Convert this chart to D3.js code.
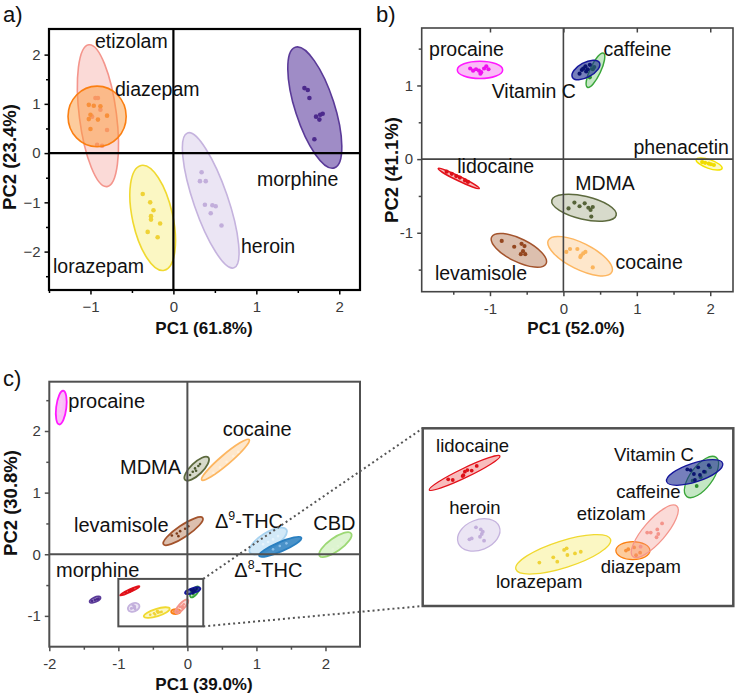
<!DOCTYPE html>
<html>
<head>
<meta charset="utf-8">
<script src="https://cdn.jsdelivr.net/npm/d3@7"></script>
<style>
  body { margin: 0; background: #fff; }
  svg text { font-family: "Liberation Sans", Arial, sans-serif; }
</style>
</head>
<body>
<svg id="fig" width="736" height="693"></svg>
<script>
// ---- panel a: benzodiazepines / opiates ----
var namesA = ["etizolam", "diazepam", "lorazepam", "heroin", "morphine"];
// confidence ellipse: [x1, y1, x2, y2, minor/major ratio] (major axis end points)
var ellA = [
  [-1.02, 2.20, -0.80, -0.68, 0.26],
  [-0.92, 1.36, -0.92, 0.13, 0.96],
  [-0.39, -0.25, -0.11, -2.38, 0.375],
  [0.17, 0.41, 0.73, -2.33, 0.24],
  [1.47, 2.15, 1.94, -0.30, 0.31]
];
var ptsA = [
  [[-0.94, 1.12], [-0.91, 1.12], [-0.88, 0.88], [-0.98, 0.74], [-0.80, 0.47], [-0.92, 0.17], [-0.86, 0.15]],
  [[-1.02, 0.98], [-0.96, 0.96], [-1.00, 0.78], [-1.02, 0.69], [-0.88, 0.95], [-0.91, 0.68], [-0.80, 0.76], [-1.00, 0.49]],
  [[-0.37, -0.83], [-0.28, -1.00], [-0.27, -1.28], [-0.27, -1.35], [-0.24, -1.16], [-0.16, -1.43], [-0.31, -1.60], [-0.19, -1.71]],
  [[0.34, -0.39], [0.32, -0.57], [0.39, -0.57], [0.38, -1.05], [0.47, -1.06], [0.51, -1.08], [0.45, -1.22], [0.58, -1.47]],
  [[1.58, 1.32], [1.62, 1.28], [1.64, 1.12], [1.72, 0.74], [1.77, 0.78], [1.80, 0.80], [1.76, 0.68], [1.70, 0.28]]
];
var labA = [["etizolam", -0.945, 2.134], ["diazepam", -0.704, 1.159], ["morphine", 1.008, -0.668],
            ["heroin", 0.815, -2.028], ["lorazepam", -1.452, -2.435]];

// ---- panel b: cutting agents ----
var namesB = ["procaine", "caffeine", "vitc", "phenacetin", "lidocaine", "MDMA", "levamisole", "cocaine"];
var ellB = [
  [-1.445, 1.211, -0.827, 1.211, 0.38],
  [0.546, 1.438, 0.327, 0.975, 0.28],
  [0.123, 1.111, 0.491, 1.310, 0.48],
  [1.810, -0.005, 2.161, -0.127, 0.32],
  [-1.705, -0.127, -1.146, -0.399, 0.1],
  [-0.158, -0.558, 0.719, -0.762, 0.35],
  [-0.977, -1.057, -0.236, -1.420, 0.38],
  [-0.205, -1.102, 0.660, -1.533, 0.37]
];
var ptsB = [
  [[-1.27, 1.23], [-1.23, 1.20], [-1.19, 1.22], [-1.15, 1.20], [-1.12, 1.18], [-1.08, 1.23], [-1.05, 1.26], [-1.02, 1.22], [-1.13, 1.16]],
  [[0.40, 1.22], [0.42, 1.25], [0.36, 1.11]],
  [[0.22, 1.16], [0.25, 1.21], [0.27, 1.23], [0.30, 1.26], [0.33, 1.22], [0.36, 1.28], [0.31, 1.19]],
  [[1.89, -0.04], [1.93, -0.05], [1.98, -0.06], [2.01, -0.07], [2.05, -0.08]],
  [[-1.59, -0.17], [-1.52, -0.20], [-1.46, -0.23], [-1.41, -0.25], [-1.34, -0.29], [-1.30, -0.31]],
  [[0.07, -0.67], [0.15, -0.59], [0.22, -0.64], [0.29, -0.60], [0.34, -0.66], [0.37, -0.69], [0.40, -0.65], [0.38, -0.78]],
  [[-0.84, -1.11], [-0.67, -1.19], [-0.57, -1.15], [-0.53, -1.18], [-0.55, -1.25], [-0.58, -1.29], [-0.52, -1.29]],
  [[0.04, -1.26], [0.09, -1.22], [0.19, -1.22], [0.24, -1.31], [0.27, -1.28], [0.30, -1.26], [0.40, -1.47], [0.23, -1.33]]
];
var labB = [["procaine", -1.830, 1.401], ["caffeine", 0.546, 1.401], ["Vitamin C", -0.977, 0.826],
            ["phenacetin", 0.955, 0.068], ["lidocaine", -1.446, -0.186], ["MDMA", 0.160, -0.422],
            ["levamisole", -1.750, -1.646], ["cocaine", 0.711, -1.487]];

// ---- panel c: all compounds ----
var namesC = ["procaine", "MDMA", "cocaine", "levamisole", "d9thc", "d8thc", "CBD", "morphine",
              "lidocaine", "heroin", "lorazepam", "diazepam", "etizolam", "caffeine", "vitc"];
var ellC = [
  [-1.798, 2.653, -1.856, 2.106, 0.3],
  [-0.033, 1.206, 0.303, 1.571, 0.37],
  [0.208, 1.206, 0.895, 1.860, 0.16],
  [-0.346, 0.161, 0.222, 0.590, 0.25],
  [0.905, 0.027, 1.434, 0.402, 0.38],
  [1.039, -0.027, 1.651, 0.268, 0.2],
  [1.915, -0.027, 2.372, 0.338, 0.34],
  [-1.414, -0.777, -1.260, -0.696, 0.4],
  [-0.974, -0.667, -0.694, -0.520, 0.12],
  [-0.859, -0.898, -0.697, -0.826, 0.68],
  [-0.631, -1.011, -0.256, -0.881, 0.27],
  [-0.235, -0.930, -0.100, -0.930, 0.53],
  [-0.168, -0.956, 0.006, -0.737, 0.33],
  [0.046, -0.696, 0.162, -0.526, 0.45],
  [-0.034, -0.631, 0.188, -0.552, 0.32]
];
var ptsC = [
  [[-1.837, 2.52], [-1.827, 2.44], [-1.822, 2.48], [-1.837, 2.36], [-1.847, 2.28], [-1.827, 2.40]],
  [[0.039, 1.286], [0.078, 1.34], [0.111, 1.393], [0.159, 1.431], [0.183, 1.463], [0.126, 1.356]],
  [[0.375, 1.323], [0.472, 1.409], [0.568, 1.50], [0.664, 1.592], [0.736, 1.661]],
  [[-0.225, 0.305], [-0.153, 0.338], [-0.105, 0.375], [-0.033, 0.413], [0.014, 0.455], [-0.130, 0.294]],
  [[1.097, 0.161], [1.169, 0.198], [1.241, 0.241], [1.313, 0.295]],
  [[1.241, 0.080], [1.338, 0.134], [1.434, 0.177]],
  [[2.107, 0.080], [2.179, 0.134], [2.228, 0.177]],
  [[-1.38, -0.76], [-1.34, -0.74], [-1.31, -0.73], [-1.29, -0.72]],
  [[-0.899, -0.621], [-0.881, -0.624], [-0.842, -0.607], [-0.833, -0.588], [-0.823, -0.581], [-0.806, -0.583], [-0.786, -0.563], [-0.839, -0.603]],
  [[-0.815, -0.881], [-0.806, -0.877], [-0.789, -0.829], [-0.770, -0.838], [-0.766, -0.858], [-0.762, -0.848], [-0.757, -0.887], [-0.773, -0.870]],
  [[-0.538, -0.982], [-0.483, -0.959], [-0.467, -0.978], [-0.440, -0.927], [-0.430, -0.920], [-0.427, -0.949], [-0.397, -0.942], [-0.374, -0.935]],
  [[-0.195, -0.930], [-0.186, -0.924], [-0.163, -0.916], [-0.139, -0.939], [-0.155, -0.950]],
  [[-0.111, -0.852], [-0.097, -0.852], [-0.071, -0.838], [-0.067, -0.858], [-0.052, -0.812], [-0.074, -0.872], [-0.137, -0.913]],
  [[0.085, -0.650], [0.101, -0.612], [0.119, -0.589], [0.138, -0.569], [0.069, -0.627]],
  [[0.048, -0.578], [0.061, -0.581], [0.074, -0.598], [0.078, -0.624], [0.098, -0.602], [0.114, -0.588], [0.133, -0.560], [0.091, -0.569]]
];
var labC = [["procaine", -1.725, 2.368], ["cocaine", 0.512, 1.919], ["MDMA", -0.976, 1.297],
            ["levamisole", -1.642, 0.366], ["Δ|9|-THC", 0.400, 0.421], ["CBD", 1.824, 0.394],
            ["Δ|8|-THC", 0.680, -0.374], ["morphine", -1.903, -0.374]];
// groups shown again in the zoomed inset, and their labels
var insetNames = ["lidocaine", "heroin", "lorazepam", "diazepam", "etizolam", "caffeine", "vitc"];
var labInset = [["lidocaine", -0.947, -0.501], ["Vitamin C", -0.242, -0.540], ["caffeine", -0.234, -0.703],
                ["heroin", -0.895, -0.771], ["etizolam", -0.390, -0.797], ["diazepam", -0.295, -1.028],
                ["lorazepam", -0.710, -1.093]];
var zoomX = [-1.0, 0.23], zoomY = [-1.17, -0.4];

// colours per compound
var sty = {
  etizolam:   {stroke: "#f4958c", fill: "#f4958c", fo: 0.35, dot: "#f4948b"},
  diazepam:   {stroke: "#fb7f12", fill: "#fb9a3c", fo: 0.5,  dot: "#f8903a"},
  lorazepam:  {stroke: "#f0d930", fill: "#f7ee7a", fo: 0.45, dot: "#efd236"},
  heroin:     {stroke: "#c5b3de", fill: "#d8cbe9", fo: 0.5,  dot: "#c2aedb"},
  morphine:   {stroke: "#5a3a98", fill: "#6c4fa8", fo: 0.65, dot: "#4c2a8c"},
  procaine:   {stroke: "#ff1aff", fill: "#f57cf0", fo: 0.5,  dot: "#ee10ee"},
  caffeine:   {stroke: "#3aa63a", fill: "#7cc97c", fo: 0.45, dot: "#2f8f2f"},
  vitc:       {stroke: "#15169a", fill: "#1a2a90", fo: 0.6,  dot: "#0a1370"},
  phenacetin: {stroke: "#f4e300", fill: "#faf17a", fo: 0.45, dot: "#f0dc00"},
  lidocaine:  {stroke: "#e3121b", fill: "#f06a6a", fo: 0.45, dot: "#dd1018"},
  MDMA:       {stroke: "#5d6a3e", fill: "#a7ae8c", fo: 0.45, dot: "#566338"},
  levamisole: {stroke: "#a3532c", fill: "#c08a6c", fo: 0.55, dot: "#94461f"},
  cocaine:    {stroke: "#fdb660", fill: "#fdd3a0", fo: 0.55, dot: "#fbb55d"},
  d9thc:      {stroke: "#a9d3f0", fill: "#bfe0f5", fo: 0.7,  dot: "#e6f3fc"},
  d8thc:      {stroke: "#2a7fc0", fill: "#2a7fc0", fo: 0.85, dot: "#8cc0ea"},
  CBD:        {stroke: "#9cd874", fill: "#c7ecb0", fo: 0.6,  dot: "#e3f5d6"}
};
// in panel c some markers are pale
var dotC = {cocaine: "#fff0dc", procaine: "#f8c8f6", MDMA: "#4d5a30", levamisole: "#7c3a18"};

var svg = d3.select("#fig");
var FONT = "'Liberation Sans', Arial, sans-serif";

function drawEllipse(sel, x, y, e, st, sw) {
  var p1 = [x(e[0]), y(e[1])], p2 = [x(e[2]), y(e[3])];
  var a = Math.hypot(p2[0] - p1[0], p2[1] - p1[1]) / 2;
  var ang = Math.atan2(p2[1] - p1[1], p2[0] - p1[0]) * 180 / Math.PI;
  sel.append("ellipse")
    .attr("transform", "translate(" + (p1[0] + p2[0]) / 2 + "," + (p1[1] + p2[1]) / 2 + ") rotate(" + ang + ")")
    .attr("rx", a).attr("ry", a * e[4])
    .attr("fill", st.fill).attr("fill-opacity", st.fo)
    .attr("stroke", st.stroke).attr("stroke-width", sw);
}

function drawGroups(g, x, y, names, ells, pts, o) {
  names.forEach(function (n, i) {
    if (o.only && o.only.indexOf(n) < 0) return;
    var st = sty[n];
    drawEllipse(g, x, y, ells[i], st, o.sw);
    g.selectAll(null).data(pts[i]).enter().append("circle")
      .attr("cx", function (d) { return x(d[0]); })
      .attr("cy", function (d) { return y(d[1]); })
      .attr("r", o.r)
      .attr("fill", (o.dots && o.dots[n]) || st.dot);
  });
}

function drawLabels(g, x, y, labs, size) {
  labs.forEach(function (l) {
    var t = g.append("text").attr("x", x(l[1])).attr("y", y(l[2]))
      .attr("font-size", size).attr("fill", "#111");
    var parts = l[0].split("|");
    if (parts.length === 3) {
      t.append("tspan").text(parts[0]);
      t.append("tspan").attr("dy", -8).attr("font-size", size * 0.62).text(parts[1]);
      t.append("tspan").attr("dy", 8).text(parts[2]);
    } else {
      t.text(l[0]);
    }
  });
}

function panel(c) {
  var x = d3.scaleLinear().domain(c.xDom).range([c.left, c.right]);
  var y = d3.scaleLinear().domain(c.yDom).range([c.bottom, c.top]);
  var g = svg.append("g");

  // axes (ticks outside, minor ticks at half units)
  function axis(gen, tr, vals, size, pad, fmt) {
    var a = g.append("g").attr("transform", tr)
      .call(gen.tickValues(vals).tickSize(size).tickPadding(pad).tickFormat(fmt).tickSizeOuter(0));
    a.select(".domain").remove();
    a.attr("color", c.line).attr("font-size", 15).attr("font-family", FONT);
    a.selectAll("line").attr("stroke-width", 1.5);
    a.selectAll("text").attr("fill", "#3a3a3a");
    return a;
  }
  axis(d3.axisBottom(x), "translate(0," + c.bottom + ")", c.xMinor, 3, 0, "");
  axis(d3.axisLeft(y), "translate(" + c.left + ",0)", c.yMinor, 3, 0, "");
  axis(d3.axisBottom(x), "translate(0," + c.bottom + ")", c.xTicks, 4.5, 7, c.fmt);
  axis(d3.axisLeft(y), "translate(" + c.left + ",0)", c.yTicks, 4.5, 4, c.fmt);
  if (c.topTicks) {
    axis(d3.axisTop(x), "translate(0," + c.top + ")", c.xTicks, -4.5, 0, "");
  }

  var marks = g.append("g");
  drawGroups(marks, x, y, c.names, c.ells, c.pts, c.opts);

  // zero lines and frame on top of the ellipses
  g.append("line").attr("x1", x(0)).attr("x2", x(0)).attr("y1", c.top).attr("y2", c.bottom)
    .attr("stroke", c.line).attr("stroke-width", c.lw);
  g.append("line").attr("x1", c.left).attr("x2", c.right).attr("y1", y(0)).attr("y2", y(0))
    .attr("stroke", c.line).attr("stroke-width", c.lw);
  g.append("rect").attr("x", c.left).attr("y", c.top)
    .attr("width", c.right - c.left).attr("height", c.bottom - c.top)
    .attr("fill", "none").attr("stroke", c.line).attr("stroke-width", c.lw);

  drawLabels(g, x, y, c.labs, c.labSize);

  g.append("text").attr("x", c.xt[0]).attr("y", c.xt[1]).attr("text-anchor", "middle")
    .attr("font-size", 17).attr("font-weight", "bold").attr("fill", "#111").text(c.xTitle);
  g.append("text").attr("transform", "translate(" + c.yt[0] + "," + c.yt[1] + ") rotate(-90)")
    .attr("text-anchor", "middle").attr("font-size", 18.5).attr("font-weight", "bold")
    .attr("fill", "#111").text(c.yTitle);
  g.append("text").attr("x", c.tag[0]).attr("y", c.tag[1]).attr("font-size", 22)
    .attr("fill", "#111").text(c.tagText);
  return {x: x, y: y, g: g};
}

var minus = d3.format("");
var hyph = function (d) { return String(d); };

panel({
  xDom: [-1.5, 2.25], yDom: [-2.78, 2.52], left: 49, right: 360, top: 29, bottom: 290,
  xTicks: [-1, 0, 1, 2], xMinor: [-1.5, -0.5, 0.5, 1.5], yTicks: [-2, -1, 0, 1, 2], yMinor: [-2.5, -1.5, -0.5, 0.5, 1.5],
  fmt: minus, line: "#000", lw: 2.2,
  names: namesA, ells: ellA, pts: ptsA, opts: {sw: 1.6, r: 2.3},
  labs: labA, labSize: 19.5,
  xTitle: "PC1 (61.8%)", xt: [204, 334], yTitle: "PC2 (23.4%)", yt: [16, 157],
  tag: [3, 22], tagText: "a)"
});

panel({
  xDom: [-1.93, 2.31], yDom: [-1.8, 1.78], left: 421.7, right: 733, top: 28, bottom: 291.7,
  xTicks: [-1, 0, 1, 2], xMinor: [-1.5, -0.5, 0.5, 1.5], yTicks: [-1, 0, 1], yMinor: [-1.5, -0.5, 0.5, 1.5],
  fmt: hyph, line: "#454545", lw: 1.6, topTicks: true,
  names: namesB, ells: ellB, pts: ptsB, opts: {sw: 1.5, r: 2.1},
  labs: labB, labSize: 19.5,
  xTitle: "PC1 (52.0%)", xt: [576, 334], yTitle: "PC2 (41.1%)", yt: [398, 170],
  tag: [376, 22], tagText: "b)"
});

var pc = panel({
  xDom: [-2, 2.5], yDom: [-1.5, 2.8], left: 49.3, right: 360, top: 381.7, bottom: 646.7,
  xTicks: [-2, -1, 0, 1, 2], xMinor: [-1.5, -0.5, 0.5, 1.5], yTicks: [-1, 0, 1, 2], yMinor: [-0.5, 0.5, 1.5, 2.5],
  fmt: hyph, line: "#505050", lw: 2,
  names: namesC, ells: ellC, pts: ptsC, opts: {sw: 1.8, r: 1.3, dots: dotC},
  labs: labC, labSize: 20,
  xTitle: "PC1 (39.0%)", xt: [204, 690], yTitle: "PC2 (30.8%)", yt: [17, 503],
  tag: [3, 386], tagText: "c)"
});

// zoom rectangle in panel c and the enlarged inset
var box = {left: 422.7, right: 733.3, top: 428.3, bottom: 606};
var zx = d3.scaleLinear().domain(zoomX).range([box.left, box.right]);
var zy = d3.scaleLinear().domain(zoomY).range([box.bottom, box.top]);
var r0 = [pc.x(zoomX[0]), pc.y(zoomY[1])], r1 = [pc.x(zoomX[1]), pc.y(zoomY[0])];

pc.g.append("rect").attr("x", r0[0]).attr("y", r0[1])
  .attr("width", r1[0] - r0[0]).attr("height", r1[1] - r0[1])
  .attr("fill", "none").attr("stroke", "#505050").attr("stroke-width", 2);
[[r1[0], r0[1], box.left, box.top], [r1[0], r1[1], box.left, box.bottom]].forEach(function (l) {
  svg.append("line").attr("x1", l[0]).attr("y1", l[1]).attr("x2", l[2]).attr("y2", l[3])
    .attr("stroke", "#555").attr("stroke-width", 2).attr("stroke-dasharray", "2,3");
});

var ins = svg.append("g");
ins.append("clipPath").attr("id", "insclip").append("rect")
  .attr("x", box.left).attr("y", box.top).attr("width", box.right - box.left).attr("height", box.bottom - box.top);
ins.append("rect").attr("x", box.left).attr("y", box.top)
  .attr("width", box.right - box.left).attr("height", box.bottom - box.top).attr("fill", "#fff");
var insMarks = ins.append("g").attr("clip-path", "url(#insclip)");
drawGroups(insMarks, zx, zy, namesC, ellC, ptsC, {sw: 1.3, r: 1.9, only: insetNames});
drawLabels(ins, zx, zy, labInset, 18.5);
ins.append("rect").attr("x", box.left).attr("y", box.top)
  .attr("width", box.right - box.left).attr("height", box.bottom - box.top)
  .attr("fill", "none").attr("stroke", "#505050").attr("stroke-width", 2.5);
</script>
</body>
</html>
